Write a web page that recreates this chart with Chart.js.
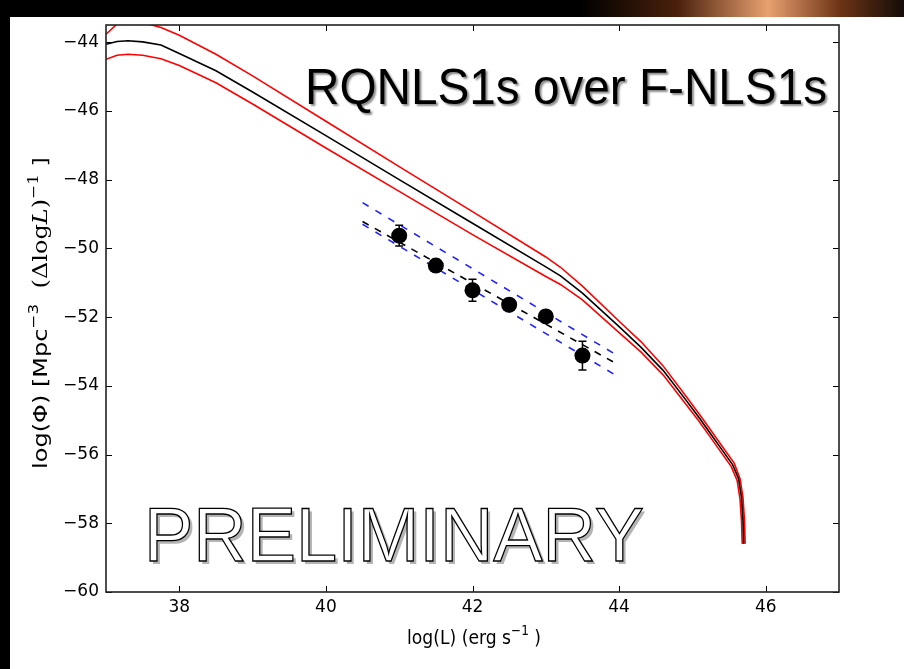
<!DOCTYPE html>
<html>
<head>
<meta charset="utf-8">
<script src="https://cdn.jsdelivr.net/npm/chart.js@4.4.1/dist/chart.umd.min.js"></script>
<style>
  html, body { margin: 0; padding: 0; background: #000; }
  canvas { display: block; }
</style>
</head>
<body>
<canvas id="lfChart" width="904" height="669"></canvas>
<script>
// model luminosity function (black) with its upper / lower envelope (red)
const lumMid  = [37.0, 37.15, 37.3, 37.5, 37.75, 38.0, 38.5, 39.0, 40.0, 41.0, 42.0, 43.0, 43.2, 43.5, 44.0, 44.3, 44.6, 44.9, 45.1, 45.25, 45.4, 45.55, 45.63, 45.67, 45.69, 45.7];
const phiMid  = [-44.06, -43.98, -43.96, -43.99, -44.08, -44.33, -44.83, -45.45, -46.72, -48.0, -49.27, -50.54, -50.8, -51.3, -52.28, -52.88, -53.55, -54.38, -54.95, -55.4, -55.85, -56.3, -56.7, -57.25, -57.9, -58.6];
const lumHigh = [37.0, 37.15, 37.3, 37.5, 37.75, 38.0, 38.5, 39.0, 40.0, 41.0, 42.0, 43.0, 43.2, 43.5, 44.0, 44.3, 44.6, 44.9, 45.12, 45.27, 45.42, 45.57, 45.65, 45.69, 45.71, 45.72];
const phiHigh = [-43.77, -43.47, -43.4, -43.43, -43.57, -43.8, -44.35, -44.98, -46.3, -47.62, -48.93, -50.25, -50.55, -51.1, -52.12, -52.72, -53.42, -54.27, -54.9, -55.35, -55.8, -56.25, -56.7, -57.25, -57.9, -58.6];
const lumLow  = [37.0, 37.15, 37.3, 37.5, 37.75, 38.0, 38.5, 39.0, 40.0, 41.0, 42.0, 43.0, 43.2, 43.5, 44.0, 44.3, 44.6, 44.88, 45.08, 45.23, 45.38, 45.53, 45.61, 45.65, 45.67, 45.68];
const phiLow  = [-44.5, -44.38, -44.35, -44.38, -44.48, -44.68, -45.18, -45.8, -47.08, -48.34, -49.6, -50.82, -51.05, -51.5, -52.45, -53.02, -53.68, -54.45, -55.0, -55.45, -55.9, -56.35, -56.75, -57.3, -57.95, -58.6];

// measured RQNLS1s points
const lumObs = [41.0, 41.5, 42.0, 42.5, 43.0, 43.5];
const phiObs = [-49.63, -50.5, -51.22, -51.64, -51.98, -53.12];
const errObs = [0.3, 0.12, 0.32, 0.12, 0.15, 0.42];

// linear fit (black dashed) and its range (blue dashed)
const fitLum  = [40.5, 44.0];
const fitMid  = [-49.22, -53.4];
const fitHigh = [-48.67, -53.15];
const fitLow  = [-49.3, -53.75];

const xTicks = [38, 40, 42, 44, 46];
const yTicks = [-44, -46, -48, -50, -52, -54, -56, -58, -60];

const plotTitle = 'RQNLS1s over F-NLS1s';
const stamp = 'PRELIMINARY';
const xTitleRuns = [
    {t: 'log(L) (erg s', f: '20px "DejaVu Sans"', dy: 0},
    {t: '\u22121', f: '14px "DejaVu Sans"', dy: -9},
    {t: ' )', f: '20px "DejaVu Sans"', dy: 0}
];
const yTitleRuns = [
    {t: 'log(\u03A6) [Mpc', f: '20px "DejaVu Sans"', dy: 0},
    {t: '\u22123', f: '14px "DejaVu Sans"', dy: -9},
    {t: '  (\u0394log', f: '20px "DejaVu Serif"', dy: 0},
    {t: 'L', f: 'italic 20px "DejaVu Serif"', dy: 0},
    {t: ')', f: '20px "DejaVu Serif"', dy: 0},
    {t: '\u22121', f: '14px "DejaVu Serif"', dy: -9},
    {t: ' ]', f: '20px "DejaVu Sans"', dy: 0}
];

function pts(xs, ys) {
    return xs.map((x, i) => ({x: x, y: ys[i]}));
}

function runsWidth(ctx, runs) {
    let w = 0;
    runs.forEach(r => { ctx.font = r.f; w += ctx.measureText(r.t).width; });
    return w;
}

function drawRuns(ctx, runs, x0, y0) {
    let x = x0;
    runs.forEach(r => {
        ctx.font = r.f;
        ctx.fillText(r.t, x, y0 + r.dy);
        x += ctx.measureText(r.t).width;
    });
}

const backdrop = {
    id: 'backdrop',
    beforeDraw(chart) {
        const ctx = chart.ctx;
        ctx.save();
        ctx.fillStyle = '#000';
        ctx.fillRect(0, 0, chart.width, chart.height);
        const glow = ctx.createLinearGradient(580, 0, 904, 0);
        glow.addColorStop(0, '#000');
        glow.addColorStop(0.3, '#4a200c');
        glow.addColorStop(0.58, '#e8a070');
        glow.addColorStop(0.8, '#6e3416');
        glow.addColorStop(1, '#140c08');
        ctx.fillStyle = glow;
        ctx.fillRect(580, 0, 324, 17);
        ctx.fillStyle = '#fff';
        ctx.fillRect(10, 17, 894, 652);
        ctx.restore();
    }
};

const errorBars = {
    id: 'errorBars',
    afterDatasetsDraw(chart) {
        const {ctx, scales: {x, y}} = chart;
        ctx.save();
        ctx.strokeStyle = '#000';
        ctx.lineWidth = 1.5;
        ctx.beginPath();
        lumObs.forEach((l, i) => {
            const px = x.getPixelForValue(l);
            const top = y.getPixelForValue(phiObs[i] + errObs[i]);
            const bot = y.getPixelForValue(phiObs[i] - errObs[i]);
            ctx.moveTo(px, top); ctx.lineTo(px, bot);
            ctx.moveTo(px - 4, top); ctx.lineTo(px + 4, top);
            ctx.moveTo(px - 4, bot); ctx.lineTo(px + 4, bot);
        });
        ctx.stroke();
        ctx.restore();
    }
};

const frame = {
    id: 'frame',
    afterDatasetsDraw(chart) {
        const {ctx, chartArea: a, scales: {x, y}} = chart;
        ctx.save();
        ctx.strokeStyle = '#000';
        ctx.lineWidth = 1;
        ctx.beginPath();
        xTicks.forEach(v => {
            const px = Math.round(x.getPixelForValue(v)) + 0.5;
            ctx.moveTo(px, a.bottom); ctx.lineTo(px, a.bottom - 6);
            ctx.moveTo(px, a.top); ctx.lineTo(px, a.top + 6);
        });
        yTicks.forEach(v => {
            const py = Math.round(y.getPixelForValue(v)) + 0.5;
            ctx.moveTo(a.left, py); ctx.lineTo(a.left + 6, py);
            ctx.moveTo(a.right, py); ctx.lineTo(a.right - 6, py);
        });
        ctx.stroke();
        ctx.strokeStyle = '#222';
        ctx.lineWidth = 1.6;
        ctx.strokeRect(a.left, a.top, a.right - a.left, a.bottom - a.top);
        ctx.restore();
    }
};

const labels = {
    id: 'labels',
    afterDraw(chart) {
        const ctx = chart.ctx;
        ctx.save();
        ctx.textBaseline = 'alphabetic';
        ctx.fillStyle = '#000';

        // x axis title, slightly condensed
        ctx.save();
        const xw = runsWidth(ctx, xTitleRuns);
        ctx.translate(474, 644);
        ctx.scale(134 / xw, 1);
        drawRuns(ctx, xTitleRuns, -xw / 2, 0);
        ctx.restore();

        // y axis title, rotated and stretched along its length
        ctx.save();
        ctx.translate(47, 313);
        ctx.rotate(-Math.PI / 2);
        const yw = runsWidth(ctx, yTitleRuns);
        ctx.scale(312 / yw, 1);
        drawRuns(ctx, yTitleRuns, -yw / 2, 0);
        ctx.restore();

        // big title with drop shadow
        ctx.save();
        ctx.font = '50px "Liberation Sans", Arial, sans-serif';
        const tw = ctx.measureText(plotTitle).width;
        ctx.translate(305, 104);
        ctx.scale(522 / tw, 1);
        ctx.shadowColor = 'rgba(0,0,0,0.45)';
        ctx.shadowOffsetX = 2;
        ctx.shadowOffsetY = 2;
        ctx.shadowBlur = 2;
        ctx.fillText(plotTitle, 0, 0);
        ctx.restore();

        // outlined PRELIMINARY stamp
        ctx.save();
        ctx.font = '76px "Liberation Sans", Arial, sans-serif';
        const sw = ctx.measureText(stamp).width;
        ctx.translate(144, 561);
        ctx.scale(500 / sw, 1);
        ctx.fillStyle = '#b4b4b4';
        ctx.fillText(stamp, 3, 3);
        ctx.fillStyle = '#fff';
        ctx.fillText(stamp, 0, 0);
        ctx.strokeStyle = '#000';
        ctx.lineWidth = 1.3;
        ctx.strokeText(stamp, 0, 0);
        ctx.restore();

        ctx.restore();
    }
};

const lineSet = (data, color, width, dash) => ({
    data: data,
    showLine: true,
    borderColor: color,
    borderWidth: width,
    borderDash: dash || [],
    pointRadius: 0,
    tension: 0,
    fill: false
});

const ctx = document.getElementById('lfChart').getContext('2d');
const lfChart = new Chart(ctx, {
    type: 'scatter',
    data: {
        datasets: [
            {
                data: pts(lumObs, phiObs),
                showLine: false,
                pointRadius: 8,
                pointBackgroundColor: '#000',
                pointBorderColor: '#000',
                pointBorderWidth: 0
            },
            lineSet(pts(fitLum, fitMid), '#000', 1.6, [7, 7]),
            lineSet(pts(fitLum, fitHigh), '#2222ff', 1.6, [7, 8]),
            lineSet(pts(fitLum, fitLow), '#2222ff', 1.6, [7, 8]),
            lineSet(pts(lumMid, phiMid), '#000', 1.6),
            lineSet(pts(lumHigh, phiHigh), '#ff0000', 1.6),
            lineSet(pts(lumLow, phiLow), '#ff0000', 1.6)
        ]
    },
    options: {
        responsive: false,
        animation: false,
        devicePixelRatio: 1,
        events: [],
        layout: {padding: {top: 25, right: 65, left: 0, bottom: 0}},
        plugins: {
            legend: {display: false},
            tooltip: {enabled: false}
        },
        scales: {
            x: {
                type: 'linear',
                min: 37,
                max: 47,
                grid: {display: false, drawTicks: false},
                border: {display: false},
                afterBuildTicks: s => { s.ticks = xTicks.map(v => ({value: v})); },
                afterFit: s => { s.height = 77; },
                ticks: {
                    color: '#000',
                    padding: 5,
                    maxRotation: 0,
                    font: {family: 'DejaVu Sans', size: 17}
                }
            },
            y: {
                type: 'linear',
                min: -60,
                max: -43.5,
                grid: {display: false, drawTicks: false},
                border: {display: false},
                afterBuildTicks: s => { s.ticks = yTicks.map(v => ({value: v})); },
                afterFit: s => { s.width = 106; },
                ticks: {
                    color: '#000',
                    padding: 7,
                    font: {family: 'DejaVu Sans', size: 17},
                    callback: v => (v < 0 ? '\u2212' + Math.abs(v) : String(v))
                }
            }
        }
    },
    plugins: [backdrop, errorBars, frame, labels]
});
</script>
</body>
</html>
